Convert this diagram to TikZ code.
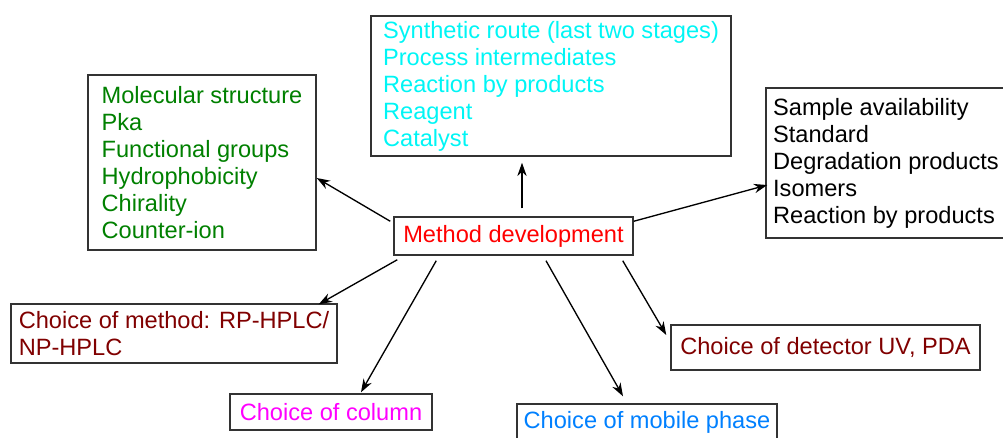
\documentclass[tikz,border=0pt]{standalone}
\usepackage{fontspec}
\setmainfont{Liberation Sans}
\usepackage{tikz}
\usetikzlibrary{arrows.meta}

\definecolor{molgreen}{RGB}{0,128,0}
\definecolor{syncyan}{RGB}{0,245,245}
\definecolor{mdred}{RGB}{255,0,0}
\definecolor{darkred}{RGB}{128,0,0}
\definecolor{colmag}{RGB}{255,0,255}
\definecolor{mobblue}{RGB}{0,128,255}

\begin{document}
\begin{tikzpicture}[x=0.75pt, y=-0.75pt,
    box/.style={draw=black!80, line width=1.1pt, align=left, inner sep=0pt,
      font=\fontsize{17.7}{20.25}\selectfont},
    arr/.style={line width=1pt, -{Stealth[length=10pt, width=7pt]}}]
    \clip (0, 0) rectangle (1003, 437);
    \node [box, text=mdred, minimum width=179.25pt, minimum height=28.5pt]
      (md) at (513.5, 236) {Method development};
    \node [box, text=molgreen, minimum width=171pt, minimum height=131.25pt]
      (mol) at (202, 162.5) {%
      Molecular structure \\ Pka \\ Functional groups \\
      Hydrophobicity \\ Chirality \\ Counter-ion
    };
    \node [box, text=syncyan, minimum width=270pt, minimum height=105pt]
      (syn) at (551, 86) {%
      Synthetic route (last two stages) \\ Process intermediates \\
      Reaction by products \\ Reagent \\ Catalyst
    };
    \node [box, minimum width=180pt, minimum height=112.5pt]
      (smp) at (886, 163) {%
      Sample availability \\ Standard \\ Degradation products \\
      Isomers \\ Reaction by products
    };
    \node [box, text=darkred, minimum width=244.5pt, minimum height=44.25pt]
      (hplc) at (174, 333.5) {%
      Choice of method: RP-HPLC/ \\ NP-HPLC
    };
    \node [box, text=colmag, minimum width=151.5pt, minimum height=27pt]
      (col) at (331, 412) {Choice of column};
    \node [box, text=mobblue, minimum width=195pt, minimum height=27pt]
      (mob) at (647, 422) {Choice of mobile phase};
    \node [box, text=darkred, minimum width=231.75pt, minimum height=33.75pt]
      (det) at (825.5, 347.5) {Choice of detector UV, PDA};
    % arrows out of the centre box
    \draw [arr] ([shift={(-3, 5)}]md.north west) -- ([shift={(0, 15.5)}]mol.east);
    \draw [arr] ([shift={(8.5, -8)}]md.north) -- ([shift={(-29, 6)}]syn.south);
    \draw [arr] ([shift={(0, 5)}]md.north east) -- ([shift={(2, 22)}]smp.west);
    \draw [arr] ([shift={(4, 4)}]md.south west) -- ([shift={(-19, 1)}]hplc.north east);
    \draw [arr] ([shift={(43, 5)}]md.south west) -- ([shift={(30, -1)}]col.north);
    \draw [arr] ([shift={(32.5, 5)}]md.south) -- ([shift={(-24, -7)}]mob.north);
    \draw [arr] ([shift={(-11, 5)}]md.south east) -- ([shift={(-4, -12.5)}]det.west);
  \end{tikzpicture}
\end{document}
